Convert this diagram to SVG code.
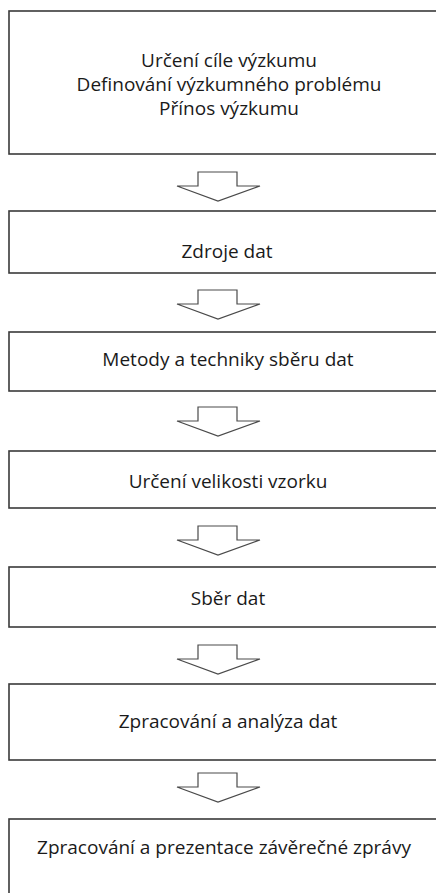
<svg xmlns="http://www.w3.org/2000/svg" width="436" height="893" viewBox="0 0 436 893">
<style>
.box{fill:#fff;stroke:#3a3a3a;stroke-width:1.6}
.arr{fill:#fff;stroke:#4a4a4a;stroke-width:1.2;stroke-linejoin:miter}
text{font-family:"Open Sans","Liberation Sans",sans-serif;font-size:19px;fill:#1a1a1a;text-anchor:middle}
</style>
<defs>
<path id="arrow" d="M198,0 H237 V14 H260 L218,29 L177,14 H198 Z"/>
</defs>
<rect width="436" height="893" fill="#fff"/>
<g id="connectors">
<use href="#arrow" class="arr" y="172"/>
<use href="#arrow" class="arr" y="290"/>
<use href="#arrow" class="arr" y="407"/>
<use href="#arrow" class="arr" y="526"/>
<use href="#arrow" class="arr" y="645"/>
<use href="#arrow" class="arr" y="773"/>
</g>
<g id="n1"><rect class="box" x="9" y="11" width="460" height="143"/>
<text x="229" y="67">Určení cíle výzkumu</text>
<text x="229" y="91">Definování výzkumného problému</text>
<text x="229" y="115">Přínos výzkumu</text></g>
<g id="n2"><rect class="box" x="9" y="211" width="460" height="62"/><text x="227" y="258">Zdroje dat</text></g>
<g id="n3"><rect class="box" x="9" y="332" width="460" height="59"/><text x="228" y="366">Metody a techniky sběru dat</text></g>
<g id="n4"><rect class="box" x="9" y="451" width="460" height="57"/><text x="228" y="488">Určení velikosti vzorku</text></g>
<g id="n5"><rect class="box" x="9" y="567" width="460" height="60"/><text x="228" y="605">Sběr dat</text></g>
<g id="n6"><rect class="box" x="9" y="684" width="460" height="76"/><text x="228" y="728">Zpracování a analýza dat</text></g>
<g id="n7"><rect class="box" x="9" y="819" width="460" height="100"/><text x="224" y="854">Zpracování a prezentace závěrečné zprávy</text></g>
</svg>
